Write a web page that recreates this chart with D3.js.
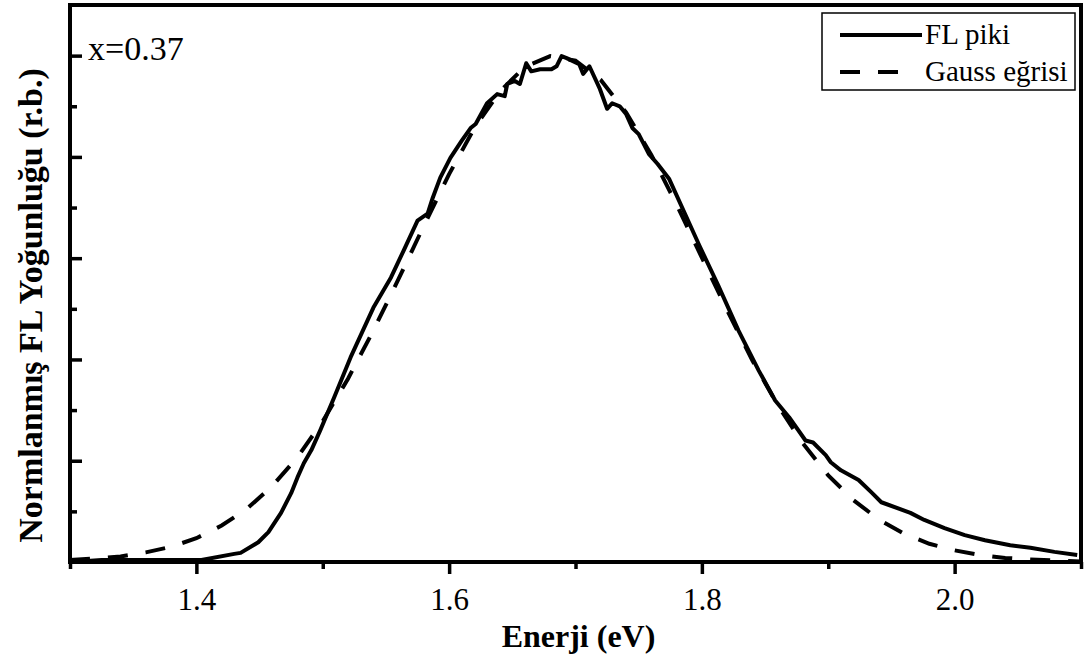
<!DOCTYPE html>
<html>
<head>
<meta charset="utf-8">
<script src="https://cdn.jsdelivr.net/npm/d3@7"></script>
<style>
  html, body { margin: 0; padding: 0; background: #fff; }
  #app { width: 1085px; height: 666px; }
  text { font-family: 'Liberation Serif', 'Times New Roman', serif; fill: #000; }
</style>
</head>
<body>
<div id="app"></div>
<script>
// FL piki (olculen)
const flEnergy = [1.302, 1.325, 1.404, 1.430, 1.435, 1.449, 1.457, 1.467, 1.475, 1.480, 1.485, 1.491, 1.498, 1.509, 1.522, 1.540, 1.554, 1.564, 1.575, 1.583, 1.587, 1.593, 1.601, 1.610, 1.617, 1.621, 1.630, 1.638, 1.644, 1.646, 1.652, 1.656, 1.661, 1.665, 1.672, 1.681, 1.685, 1.689, 1.693, 1.703, 1.706, 1.711, 1.719, 1.725, 1.729, 1.735, 1.740, 1.745, 1.750, 1.758, 1.765, 1.774, 1.798, 1.813, 1.829, 1.845, 1.858, 1.869, 1.882, 1.888, 1.898, 1.902, 1.910, 1.924, 1.934, 1.942, 1.965, 1.976, 1.992, 2.008, 2.024, 2.044, 2.060, 2.079, 2.097]
const flValue = [0.000, 0.004, 0.004, 0.016, 0.018, 0.039, 0.059, 0.097, 0.136, 0.167, 0.195, 0.221, 0.260, 0.325, 0.404, 0.502, 0.562, 0.615, 0.674, 0.688, 0.719, 0.759, 0.798, 0.832, 0.857, 0.865, 0.906, 0.924, 0.920, 0.944, 0.950, 0.944, 0.985, 0.969, 0.973, 0.973, 0.979, 0.999, 0.995, 0.983, 0.964, 0.979, 0.936, 0.895, 0.906, 0.900, 0.885, 0.857, 0.845, 0.806, 0.786, 0.757, 0.625, 0.546, 0.457, 0.378, 0.319, 0.286, 0.240, 0.236, 0.211, 0.197, 0.181, 0.162, 0.138, 0.118, 0.097, 0.083, 0.067, 0.053, 0.043, 0.033, 0.028, 0.020, 0.014]
// Gauss egrisi
const gaussEnergy = [1.30, 1.32, 1.34, 1.36, 1.38, 1.40, 1.42, 1.44, 1.46, 1.48, 1.50, 1.52, 1.54, 1.56, 1.58, 1.60, 1.62, 1.64, 1.66, 1.68, 1.70, 1.72, 1.74, 1.76, 1.78, 1.80, 1.82, 1.84, 1.86, 1.88, 1.90, 1.92, 1.94, 1.96, 1.98, 2.00, 2.02, 2.04, 2.06, 2.08, 2.10]
const gaussValue = [0.004, 0.007, 0.011, 0.019, 0.030, 0.047, 0.072, 0.105, 0.150, 0.207, 0.278, 0.362, 0.457, 0.559, 0.664, 0.766, 0.857, 0.929, 0.978, 0.999, 0.990, 0.952, 0.888, 0.804, 0.706, 0.601, 0.497, 0.398, 0.310, 0.234, 0.171, 0.122, 0.084, 0.056, 0.036, 0.023, 0.014, 0.008, 0.005, 0.003, 0.001]
const xMajor = [1.4, 1.6, 1.8, 2.0]
const xMinor = [1.3, 1.5, 1.7, 1.9, 2.1]
const yMajor = [0.2, 0.4, 0.6, 0.8, 1.0]
const yMinor = [0.1, 0.3, 0.5, 0.7, 0.9]
const legendNames = ['FL piki', 'Gauss eğrisi']

const _config = {
  width: 1085,
  height: 666,
  margin: { top: 5, right: 4, bottom: 104, left: 70 },
}
const innerW = _config.width - _config.margin.left - _config.margin.right
const innerH = _config.height - _config.margin.top - _config.margin.bottom

const svg = d3.select('#app')
  .append('svg')
  .attr('width', _config.width)
  .attr('height', _config.height)

const g = svg.append('g')
  .attr('transform', `translate(${_config.margin.left}, ${_config.margin.top})`)

const xScale = d3.scaleLinear().domain([1.3, 2.1]).range([0, innerW])
const yScale = d3.scaleLinear().domain([0, 1.1]).range([innerH, 0])

// x ekseni: disari dogru tikler
const xAxisMajor = d3.axisBottom(xScale).tickValues(xMajor).tickSizeInner(12).tickSizeOuter(0).tickPadding(14).tickFormat(d3.format('.1f'))
const xAxisMinor = d3.axisBottom(xScale).tickValues(xMinor).tickSizeInner(7).tickSizeOuter(0).tickFormat('')
g.append('g').attr('class', 'ax').attr('transform', `translate(0, ${innerH})`).call(xAxisMinor)
g.append('g').attr('class', 'ax xlab').attr('transform', `translate(0, ${innerH})`).call(xAxisMajor)

// y ekseni: ice dogru tikler, etiketsiz
const yAxisMajor = d3.axisLeft(yScale).tickValues(yMajor).tickSizeInner(-12).tickSizeOuter(0).tickFormat('')
const yAxisMinor = d3.axisLeft(yScale).tickValues(yMinor).tickSizeInner(-7).tickSizeOuter(0).tickFormat('')
g.append('g').attr('class', 'ax').call(yAxisMajor)
g.append('g').attr('class', 'ax').call(yAxisMinor)

g.selectAll('.ax .domain').remove()
g.selectAll('.ax line').attr('stroke', '#000').attr('stroke-width', 3.5)
g.selectAll('.xlab text')
  .attr('font-family', "'Liberation Serif', serif")
  .attr('font-size', 31)
  .attr('fill', '#000')

// egriler
const line = d3.line()
  .x(d => xScale(d[0]))
  .y(d => yScale(d[1]))
const gaussData = gaussEnergy.map((e, i) => [e, gaussValue[i]])
const flData = flEnergy.map((e, i) => [e, flValue[i]])

g.append('path')
  .datum(gaussData)
  .attr('fill', 'none')
  .attr('stroke', '#000')
  .attr('stroke-width', 4)
  .attr('stroke-dasharray', '20,18')
  .attr('d', line)
g.append('path')
  .datum(flData)
  .attr('fill', 'none')
  .attr('stroke', '#000')
  .attr('stroke-width', 4)
  .attr('stroke-linejoin', 'round')
  .attr('d', line)

// cerceve
g.append('rect')
  .attr('x', 0)
  .attr('y', 0)
  .attr('width', innerW)
  .attr('height', innerH)
  .attr('fill', 'none')
  .attr('stroke', '#000')
  .attr('stroke-width', 4)

g.append('text')
  .attr('x', 18)
  .attr('y', 55)
  .attr('font-size', 34)
  .text('x=0.37')

// legend
const lg = g.append('g').attr('transform', `translate(${822 - _config.margin.left}, ${13 - _config.margin.top})`)
lg.append('rect')
  .attr('width', 253)
  .attr('height', 77)
  .attr('fill', '#fff')
  .attr('stroke', '#000')
  .attr('stroke-width', 1.5)
lg.selectAll('line')
  .data(legendNames)
  .enter()
  .append('line')
  .attr('x1', 18)
  .attr('x2', (d, i) => i ? 78 : 100)
  .attr('y1', (d, i) => 22 + i * 37)
  .attr('y2', (d, i) => 22 + i * 37)
  .attr('stroke', '#000')
  .attr('stroke-width', 4)
  .attr('stroke-dasharray', (d, i) => i ? '20,18' : null)
lg.selectAll('text')
  .data(legendNames)
  .enter()
  .append('text')
  .attr('x', 103)
  .attr('y', (d, i) => 31 + i * 37)
  .attr('font-size', 29)
  .text(d => d)

// eksen basliklari
svg.append('text')
  .attr('x', _config.margin.left + xScale(1.7) + 3)
  .attr('y', 647)
  .attr('text-anchor', 'middle')
  .attr('font-weight', 'bold')
  .attr('font-size', 32)
  .text('Enerji (eV)')
svg.append('text')
  .attr('transform', `translate(42, ${_config.margin.top + innerH / 2 + 22}) rotate(-90)`)
  .attr('text-anchor', 'middle')
  .attr('font-weight', 'bold')
  .attr('font-size', 34)
  .text('Normlanmış FL Yoğunluğu (r.b.)')
</script>
</body>
</html>
